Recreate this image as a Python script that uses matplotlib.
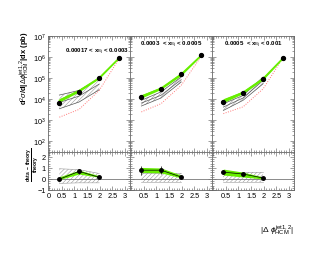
import numpy as np
import matplotlib
matplotlib.use("Agg")
import matplotlib.pyplot as plt
from matplotlib.ticker import LogLocator, MultipleLocator, NullFormatter

plt.rcParams['font.family'] = ['Liberation Sans', 'DejaVu Sans']
plt.rcParams['hatch.linewidth'] = 0.4
plt.rcParams['mathtext.fontset'] = 'custom'
plt.rcParams['mathtext.rm'] = 'Liberation Sans'
plt.rcParams['mathtext.it'] = 'Liberation Sans:italic'
plt.rcParams['mathtext.bf'] = 'Liberation Sans:bold'

# ---------------- data ----------------
x_centers = [0.4, 1.18, 1.98, 2.78]
panel_labels = [r"0.00017 < x$_{\rm Bj}$ < 0.0003",
                r"0.0003  < x$_{\rm Bj}$ < 0.0005",
                r"0.0005  < x$_{\rm Bj}$ < 0.001"]

# cross sections (pb), log10 values
data_log = [[3.84, 4.36, 5.01, 5.97],
            [4.11, 4.49, 5.18, 6.10],
            [3.87, 4.30, 4.96, 5.97]]
nlo_lo_log = [[3.87, 4.35, 4.98, 5.95],
              [4.06, 4.47, 5.13, 6.07],
              [3.84, 4.27, 4.93, 5.95]]
nlo_hi_log = [[4.03, 4.47, 5.06, 6.00],
              [4.22, 4.58, 5.26, 6.12],
              [4.03, 4.39, 5.05, 6.00]]
lo_log = [[3.15, 3.52, 4.42, 5.95],
          [3.40, 3.79, 4.66, 6.05],
          [3.32, 3.64, 4.50, 6.00]]
# hatched (other-model) band, first three bins
band_lo_log = [[3.55, 3.87, 4.45],
               [3.68, 4.06, 4.82],
               [3.47, 3.95, 4.74]]
band_mid_log = [[3.85, 4.15, 4.72],
                [3.82, 4.19, 4.93],
                [3.63, 4.06, 4.90]]
band_hi_log = [[4.20, 4.42, 4.97],
               [3.95, 4.35, 5.06],
               [3.79, 4.18, 5.06]]

# ratio (data - theory)/theory, first three bins
ratio_x = [0.4, 1.18, 1.98]
ratio_val = [[-0.02, 0.69, 0.15],
             [0.80, 0.80, 0.18],
             [0.62, 0.45, 0.09]]
ratio_err = [[0.08, 0.25, 0.06],
             [0.40, 0.35, 0.06],
             [0.20, 0.12, 0.05]]
ratio_green_lo = [[-0.05, 0.45, 0.15],
                  [0.60, 0.55, 0.10],
                  [0.36, 0.18, 0.00]]
ratio_green_hi = [[0.20, 0.80, 0.30],
                  [1.05, 1.00, 0.35],
                  [0.90, 0.62, 0.18]]
ratio_band_lo = [[-0.40, -0.35, -0.35],
                 [-0.23, -0.23, -0.23],
                 [-0.23, -0.23, -0.23]]
ratio_band_hi = [[0.93, 0.85, 0.50],
                 [0.50, 0.50, 0.50],
                 [0.65, 0.65, 0.65]]

W, H = 330, 255
fig = plt.figure(figsize=(W / 100, H / 100), dpi=100)

def fr(x0, y0, x1, y1):
    return [x0 / W, 1 - y1 / H, (x1 - x0) / W, (y1 - y0) / H]

lefts = [48, 130, 212]
pw = 82
green = '#66ee00'
red = '#ff7777'
gray = '#555555'
tick_fs = 5.3

def style(ax):
    ax.tick_params(which='both', direction='in', top=True, right=True,
                   width=0.4, colors='#555555', labelcolor='black', labelsize=tick_fs, pad=1.5)
    ax.tick_params(which='major', length=3)
    ax.tick_params(which='minor', length=1.5)
    for s in ax.spines.values():
        s.set_linewidth(0.6)
        s.set_color('#666666')

for i in range(3):
    x0 = lefts[i]
    ax = fig.add_axes(fr(x0, 37, x0 + pw, 153))
    ax.set_yscale('log')
    ax.set_xlim(-0.05, 3.2)
    ax.set_ylim(10 ** 1.5, 1e7)
    xs3 = np.array(x_centers[:3])
    lo = 10 ** np.array(band_lo_log[i])
    hi = 10 ** np.array(band_hi_log[i])
    mid = 10 ** np.array(band_mid_log[i])
    ax.fill_between(xs3, lo, hi, facecolor='none', edgecolor='#999999', hatch='////////', linewidth=0)
    for arr in (lo, mid, hi):
        ax.plot(xs3, arr, color=gray, lw=0.5)
    ax.fill_between(x_centers, 10 ** np.array(nlo_lo_log[i]), 10 ** np.array(nlo_hi_log[i]),
                    color=green, lw=0, zorder=3)
    ax.plot(x_centers, 10 ** ((np.array(nlo_lo_log[i]) + np.array(nlo_hi_log[i])) / 2),
            color=green, lw=1.0, zorder=3)
    ax.plot(x_centers, 10 ** np.array(lo_log[i]), color=red, lw=0.7, ls=(0, (1, 1.5)), zorder=2)
    ax.plot(x_centers, 10 ** np.array(data_log[i]), 'o', color='black', ms=2.8, zorder=5)
    ax.yaxis.set_major_locator(LogLocator(base=10, numticks=10))
    ax.yaxis.set_minor_locator(LogLocator(base=10, subs=np.arange(2, 10), numticks=20))
    ax.yaxis.set_minor_formatter(NullFormatter())
    ax.xaxis.set_major_locator(MultipleLocator(0.5))
    ax.xaxis.set_minor_locator(MultipleLocator(0.1))
    ax.set_xticklabels([])
    style(ax)
    if i > 0:
        ax.set_yticklabels([])
    ty = 0.87 if i == 0 else 0.935
    ax.text(0.6 if i == 0 else 0.5, ty, panel_labels[i], transform=ax.transAxes, ha='center', va='center',
            fontsize=4.4, fontweight='bold')

    # ratio panel
    rx = fig.add_axes(fr(x0, 153, x0 + pw, 191))
    rx.set_xlim(-0.05, 3.2)
    rx.set_ylim(-1, 2.45)
    rx.axhline(0, color='#777777', lw=0.6)
    rx.fill_between(ratio_x, ratio_band_lo[i], ratio_band_hi[i], facecolor='none',
                    edgecolor='#999999', hatch='////////', linewidth=0)
    rx.plot(ratio_x, ratio_band_lo[i], color='#999999', lw=0.4)
    rx.plot(ratio_x, ratio_band_hi[i], color='#999999', lw=0.4)
    rx.fill_between(ratio_x, ratio_green_lo[i], ratio_green_hi[i], color=green, lw=0, zorder=3)
    rx.errorbar(ratio_x, ratio_val[i], yerr=ratio_err[i], fmt='o', color='black', ms=2.5,
                elinewidth=0.5, capsize=0, zorder=5)
    rx.plot(ratio_x, ratio_val[i], '-', color='black', lw=0.5, zorder=4)
    rx.xaxis.set_minor_locator(MultipleLocator(0.1))
    rx.yaxis.set_major_locator(MultipleLocator(1))
    rx.yaxis.set_minor_locator(MultipleLocator(0.2))
    rx.set_xticks([0, 0.5, 1, 1.5, 2, 2.5, 3])
    style(rx)
    if i == 0:
        rx.set_xticklabels(['0', '0.5', '1', '1.5', '2', '2.5', '3'])
    else:
        rx.set_xticklabels(['', '0.5', '1', '1.5', '2', '2.5', '3'])
        rx.set_yticklabels([])

fig.text(25 / W, 1 - 68 / H,
         r"d$^{2}\sigma$/d|$\Delta\phi^{\rm jet1,2}_{\rm HCM}$|dx (pb)",
         rotation=90, ha='center', va='center', fontsize=5.4, fontweight='bold')
fig.text(33 / W, 1 - 165 / H, r"$\frac{\mathbf{data\ -\ theory}}{\mathbf{theory}}$",
         rotation=90, ha='center', va='center', fontsize=5.0)
fig.text(294 / W, 1 - 231 / H, r"|$\Delta$ $\phi^{\rm jet1,2}_{\rm HCM}$|", ha='right', va='center', fontsize=6)

fig.savefig('out.png', dpi=100)
